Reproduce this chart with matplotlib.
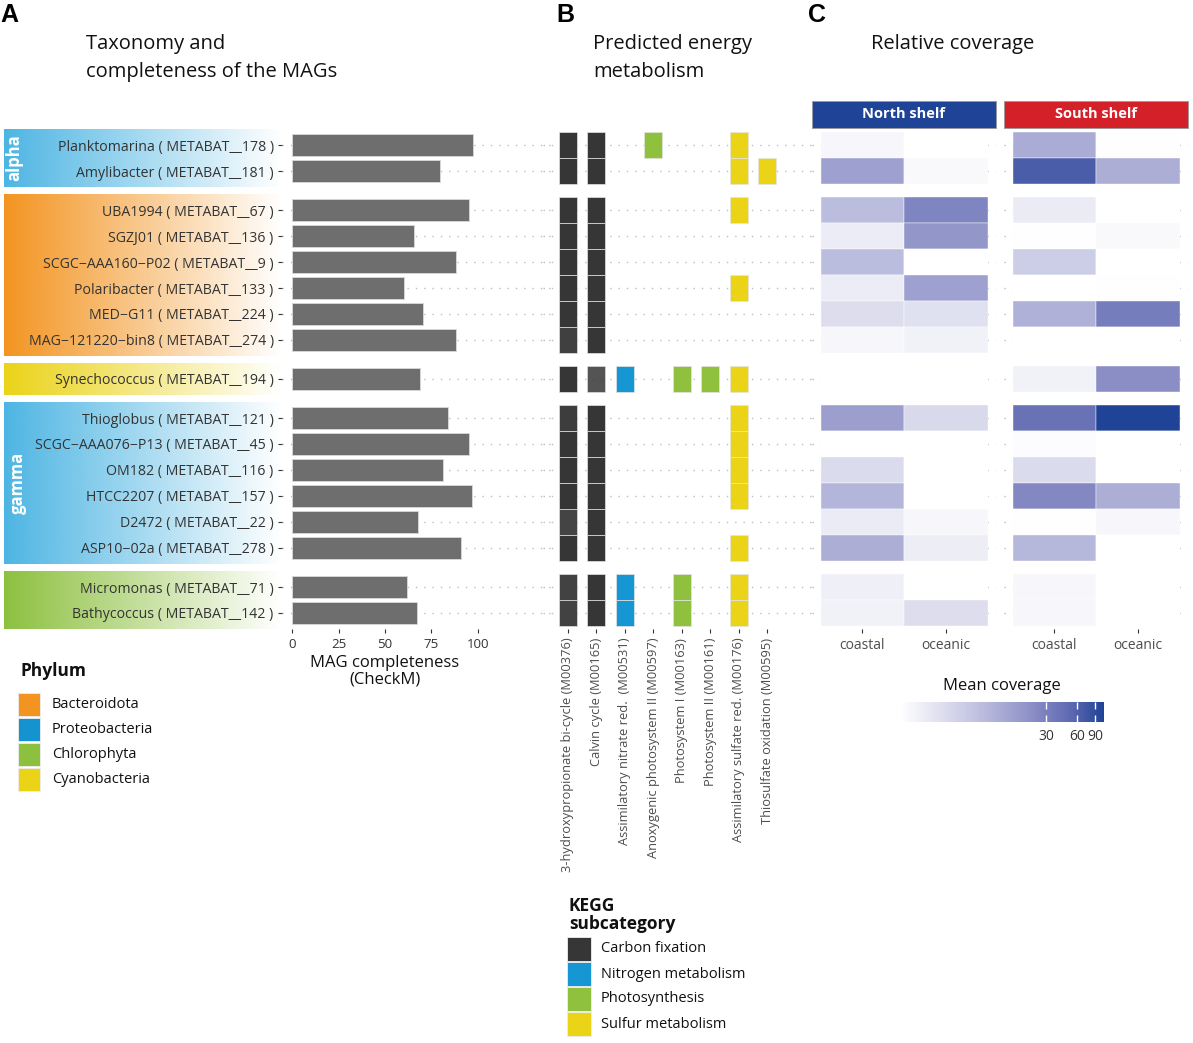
import numpy as np
import matplotlib.pyplot as plt
from matplotlib.colors import LinearSegmentedColormap, LogNorm, to_rgb
from matplotlib.patches import Rectangle
from matplotlib.cm import ScalarMappable
from matplotlib.ticker import NullLocator

plt.rcParams['font.family'] = ['Open Sans', 'DejaVu Sans']

# MAGs (top to bottom)
mags = ["Planktomarina ( METABAT__178 )", "Amylibacter ( METABAT__181 )",
        "UBA1994 ( METABAT__67 )", "SGZJ01 ( METABAT__136 )",
        "SCGC\u2212AAA160\u2212P02 ( METABAT__9 )", "Polaribacter ( METABAT__133 )",
        "MED\u2212G11 ( METABAT__224 )", "MAG\u2212121220\u2212bin8 ( METABAT__274 )",
        "Synechococcus ( METABAT__194 )",
        "Thioglobus ( METABAT__121 )", "SCGC\u2212AAA076\u2212P13 ( METABAT__45 )",
        "OM182 ( METABAT__116 )", "HTCC2207 ( METABAT__157 )",
        "D2472 ( METABAT__22 )", "ASP10\u221202a ( METABAT__278 )",
        "Micromonas ( METABAT__71 )", "Bathycoccus ( METABAT__142 )"]
groups = ["alpha"] * 2 + ["Bacteroidota"] * 6 + ["Cyanobacteria"] + ["gamma"] * 6 + ["Chlorophyta"] * 2
completeness = [97.5, 79.5, 95, 65.5, 88, 60, 70.5, 88, 69, 84, 95, 81, 97, 67.5, 91, 62, 67]

# Panel B: KEGG modules, value = tile opacity (0 = absent)
modules = ["3-hydroxypropionate bi-cycle (M00376)", "Calvin cycle (M00165)",
           "Assimilatory nitrate red.  (M00531)", "Anoxygenic photosystem II (M00597)",
           "Photosystem I (M00163)", "Photosystem II (M00161)",
           "Assimilatory sulfate red. (M00176)", "Thiosulfate oxidation (M00595)"]
module_cat = ["Carbon fixation", "Carbon fixation", "Nitrogen metabolism", "Photosynthesis",
              "Photosynthesis", "Photosynthesis", "Sulfur metabolism", "Sulfur metabolism"]
presence = np.array([
    [1, 1, 0, 1, 0, 0, 1, 0],
    [1, 1, 0, 0, 0, 0, 1, 1],
    [1, 1, 0, 0, 0, 0, 1, 0],
    [1, 1, 0, 0, 0, 0, 0, 0],
    [1, 1, 0, 0, 0, 0, 0, 0],
    [1, 1, 0, 0, 0, 0, 1, 0],
    [1, 1, 0, 0, 0, 0, 0, 0],
    [0.95, 1, 0, 0, 0, 0, 0, 0],
    [1, 0.85, 1, 0, 1, 1, 1, 0],
    [0.97, 1, 0, 0, 0, 0, 1, 0],
    [1, 1, 0, 0, 0, 0, 1, 0],
    [1, 1, 0, 0, 0, 0, 1, 0],
    [1, 1, 0, 0, 0, 0, 1, 0],
    [0.93, 1, 0, 0, 0, 0, 0, 0],
    [1, 1, 0, 0, 0, 0, 1, 0],
    [0.94, 1, 1, 0, 1, 0, 1, 0],
    [0.94, 1, 1, 0, 1, 0, 1, 0],
])

# Panel C: mean coverage (coastal, oceanic)
sites = ["coastal", "oceanic"]
shelves = ["North shelf", "South shelf"]
north_cov = np.array([
    [1.4, 0], [13.9, 1.33], [6.9, 27], [1.9, 18.5], [6.9, 0], [1.9, 13.9],
    [2.9, 2.6], [1.37, 1.62], [0, 0], [14.5, 3.2], [0, 0], [3.1, 0],
    [8.4, 0], [1.98, 1.37], [10, 1.85], [1.75, 0], [1.66, 2.9]])
south_cov = np.array([
    [10.6, 1.15], [66, 10], [1.98, 0], [1.15, 1.33], [4.6, 0], [0, 1.15],
    [9.2, 32], [0, 0], [1.66, 22], [42, 110], [1.2, 0], [3.1, 0],
    [25, 10], [1.15, 1.4], [8, 0], [1.37, 0], [1.37, 0]])

phyla = ["Bacteroidota", "Proteobacteria", "Chlorophyta", "Cyanobacteria"]
phylum_colors = ["#F39420", "#1592D0", "#8DC03F", "#EBD317"]
group_colors = {"alpha": "#4DB5E3", "Bacteroidota": "#F39420", "Cyanobacteria": "#EBD317",
                "gamma": "#4DB5E3", "Chlorophyta": "#8DC03F"}
kegg_cats = ["Carbon fixation", "Nitrogen metabolism", "Photosynthesis", "Sulfur metabolism"]
kegg_colors = ["#363636", "#1696D2", "#8FC13F", "#EBD317"]
strip_colors = ["#1F4396", "#D42028"]

# row positions, with a wider gap between groups
pos = []
y = 0
for i, g in enumerate(groups):
    if i > 0:
        y += 1 if g == groups[i - 1] else 1.5
    pos.append(y)
pos = np.array(pos)

W, H = 1193, 1043
fig = plt.figure(figsize=(W / 100, H / 100), dpi=100)

row_top, row_px = 145, 26
y0 = row_top - 0.6 * row_px
y1 = row_top + (pos[-1] + 0.6) * row_px
ylim = (pos[-1] + 0.6, -0.6)


def px_axes(xa, xb, ya, yb, z=1):
    return fig.add_axes([xa / W, 1 - yb / H, (xb - xa) / W, (yb - ya) / H], zorder=z)


def dotted_rows(ax):
    for p in pos:
        ax.axhline(p, color="#BDBDBD", lw=1, ls=(0, (1, 5)), zorder=0)


txt = "#333333"

# ---- label strip with gradient blocks
ax_s = px_axes(4, 282, y0, y1, z=0)
start = 0
for i in range(1, len(groups) + 1):
    if i == len(groups) or groups[i] != groups[start]:
        g = groups[start]
        img = np.zeros((1, 256, 4))
        img[..., :3] = to_rgb(group_colors[g])
        img[..., 3] = np.linspace(1, 0, 256)
        ax_s.imshow(img, extent=(0, 1, pos[i - 1] + 0.6, pos[start] - 0.6), aspect="auto")
        if g in ("alpha", "gamma"):
            ax_s.text(0.037 if g == "alpha" else 0.05, pos[start:i].mean(), g, rotation=90,
                      color="white", fontsize=12, fontweight="bold", ha="center", va="center")
        start = i
ax_s.set_xlim(0, 1)
ax_s.set_ylim(*ylim)
ax_s.axis("off")

# ---- panel A
ax_a = px_axes(282, 556, y0, y1, z=2)
ax_a.patch.set_alpha(0)
dotted_rows(ax_a)
ax_a.barh(pos, completeness, height=0.88, color="#6D6E6D", edgecolor="#D9D9D9", lw=0.6, zorder=2)
ax_a.set_xlim(-5.4, 142)
ax_a.set_ylim(*ylim)
ax_a.set_yticks(pos)
ax_a.set_yticklabels(mags, fontsize=10.2, color=txt)
ax_a.set_xticks([0, 25, 50, 75, 100])
ax_a.tick_params(axis="x", labelsize=9.5, labelcolor=txt, length=3, color=txt)
ax_a.tick_params(axis="y", length=3, color=txt, pad=3)
for s in ax_a.spines.values():
    s.set_visible(False)
ax_a.set_xlabel("MAG completeness\n(CheckM)", fontsize=12, linespacing=1.0, color="#111111")
ax_a.xaxis.set_label_coords((385 - 282) / (556 - 282), -0.053)

# ---- panel B
ax_b = px_axes(543, 812, y0, y1)
dotted_rows(ax_b)
for i in range(len(mags)):
    for j in range(len(modules)):
        if presence[i, j] > 0:
            c = kegg_colors[kegg_cats.index(module_cat[j])]
            ax_b.bar(j + 1, 1, bottom=pos[i] - 0.5, width=0.63, color=c, alpha=presence[i, j],
                     edgecolor="#E4E4E4", lw=0.5, zorder=2)
ax_b.set_xlim(0.121, 9.58)
ax_b.set_ylim(*ylim)
ax_b.set_yticks([])
ax_b.set_xticks(np.arange(1, len(modules) + 1))
ax_b.set_xticklabels(modules, rotation=90, fontsize=9.3, color="#4D4D4D")
ax_b.tick_params(axis="x", length=3, color=txt)
for s in ax_b.spines.values():
    s.set_visible(False)

# ---- panel C
cmap = LinearSegmentedColormap.from_list(
    "cov", [(0, "#FFFFFF"), (0.35, "#C5C6E3"), (0.62, "#9194C8"), (0.85, "#5A66AF"), (1, "#1F4396")])
cmap.set_bad("white")
cmap.set_under("white")
norm = LogNorm(vmin=1.1, vmax=110)

for k, (shelf, cov) in enumerate(zip(shelves, [north_cov, south_cov])):
    xa = 812 + k * 192
    ax = px_axes(xa, xa + 184, y0, y1)
    dotted_rows(ax)
    for i in range(len(mags)):
        vals = np.ma.masked_less_equal(cov[i], 0)
        ax.bar([1, 2], 1, bottom=pos[i] - 0.5, width=1, color=cmap(norm(vals)),
               edgecolor="white", lw=0.3, zorder=2)
    ax.set_xlim(0.395, 2.6)
    ax.set_ylim(*ylim)
    ax.set_yticks([])
    ax.set_xticks([1, 2])
    ax.set_xticklabels(sites, fontsize=10, color="#4D4D4D")
    ax.tick_params(axis="x", length=3, color=txt)
    for s in ax.spines.values():
        s.set_visible(False)
    sh = 27 / (y1 - y0)
    ax.add_patch(Rectangle((0, 1.003), 1, sh, transform=ax.transAxes, facecolor=strip_colors[k],
                           edgecolor="#9A9A9A", lw=0.6, clip_on=False))
    ax.text(0.5, 1.003 + sh / 2, shelf, transform=ax.transAxes, color="white", fontsize=10.5,
            fontweight="bold", ha="center", va="center")

# colour bar
cax = px_axes(900, 1104, 702, 722)
cb = fig.colorbar(ScalarMappable(norm=norm, cmap=cmap), cax=cax, orientation="horizontal")
cb.set_ticks([30, 60, 90])
cb.set_ticklabels(["30", "60", "90"])
cax.xaxis.set_minor_locator(NullLocator())
cb.outline.set_visible(False)
cax.tick_params(axis="x", direction="in", color="white", length=5, width=1, top=True,
                labelsize=10, labelcolor=txt, pad=5)
fig.text(1002 / W, 1 - 686 / H, "Mean coverage", ha="center", va="center", fontsize=12, color="#111111")

# ---- legends, drawn in figure pixel space
lay = fig.add_axes([0, 0, 1, 1], zorder=3)
lay.set_xlim(0, W)
lay.set_ylim(H, 0)
lay.axis("off")


def key_legend(x, y_title, title, labels, colors, y_first, box_w, box_h, step, text_x):
    lay.text(x, y_title, title, fontsize=12.5, fontweight="bold", va="center", ha="left",
             linespacing=0.95, color="#111111")
    for n, (lab, c) in enumerate(zip(labels, colors)):
        yy = y_first + n * step
        lay.add_patch(Rectangle((x - 2, yy), box_w, box_h, facecolor=c, edgecolor="#EEEEEE", lw=0.6))
        lay.text(text_x, yy + box_h / 2, lab, fontsize=10.5, va="center", ha="left", color="#111111")


key_legend(20, 671, "Phylum", phyla, phylum_colors, 693, 22, 23, 25, 52)
key_legend(569, 915, "KEGG\nsubcategory", kegg_cats, kegg_colors, 937, 24, 24, 25, 601)

# ---- panel letters and titles
for x, lab in [(0, "A"), (556, "B"), (808, "C")]:
    fig.text(x / W, 1 - 3 / H, lab, fontsize=18, fontweight="bold", va="top",
             family=["Liberation Sans", "DejaVu Sans"])
fig.text(86 / W, 1 - 34 / H, "Taxonomy and\ncompleteness of the MAGs", fontsize=14.5, va="top",
         linespacing=1.55, color="#111111")
fig.text(593 / W, 1 - 34 / H, "Predicted energy\nmetabolism", fontsize=14.5, va="top",
         linespacing=1.55, color="#111111")
fig.text(871 / W, 1 - 34 / H, "Relative coverage", fontsize=14.5, va="top", color="#111111")

fig.savefig("out.png", dpi=100)
